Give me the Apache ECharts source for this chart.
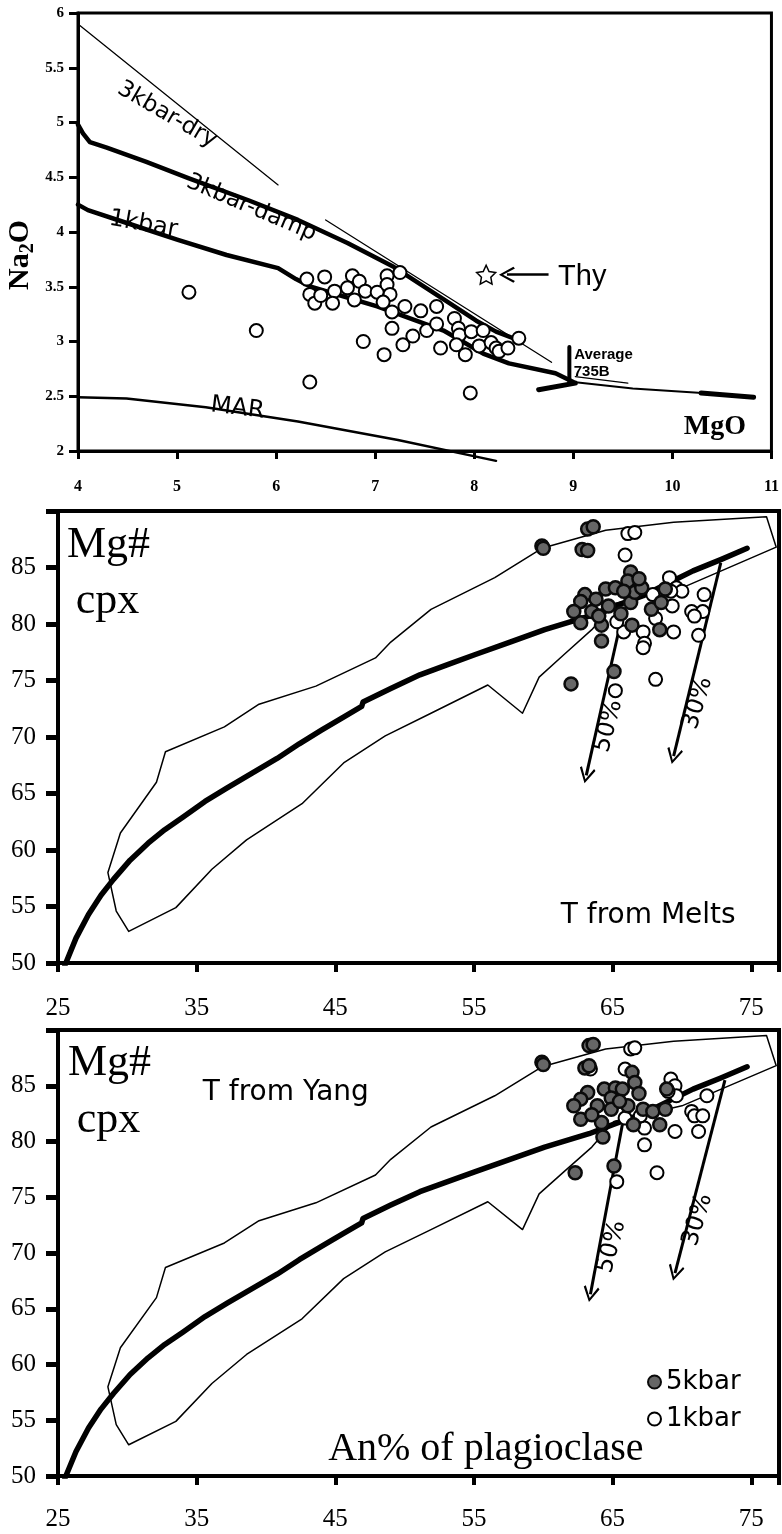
<!DOCTYPE html>
<html><head><meta charset="utf-8">
<script src="https://cdn.jsdelivr.net/npm/echarts@6/dist/echarts.min.js"></script>
<style>html,body{margin:0;padding:0;background:#fff}#c{width:782px;height:1534px}</style>
</head><body><div id="c"></div>
<script>
// ---------- Panel A : Na2O vs MgO ----------
const dryA = [[4.0,5.9],[6.02,4.43]];
const dryB = [[6.5,4.11],[8.78,2.81]];
const dryC = [[9.02,2.68],[9.55,2.62]];
const damp = [[4.0,4.98],[4.05,4.9],[4.12,4.82],[4.29,4.77],[4.69,4.64],[5.12,4.49],[5.72,4.29],[6.22,4.11],[6.72,3.9],[7.19,3.68],[7.75,3.35],[8.02,3.19],[8.22,3.09],[8.48,3.0]];
const kbar1 = [[4.0,4.25],[4.1,4.2],[4.5,4.08],[5.0,3.93],[5.5,3.79],[6.02,3.67],[6.2,3.57],[6.35,3.5],[7.02,3.32],[7.69,3.1],[8.09,2.89],[8.35,2.8],[8.82,2.71],[9.0,2.63]];
const kbar1Thin = [[9.0,2.63],[9.6,2.57],[10.3,2.53]];
const kbar1Tail = [[10.29,2.53],[10.82,2.49]];
const avgBar = [[8.96,2.62],[8.96,2.95]];
const avgBase = [[8.65,2.56],[9.02,2.62]];
const mar = [[4.0,2.49],[4.49,2.48],[5.29,2.4],[6.22,2.27],[7.23,2.1],[8.22,1.91]];
const naPoints = [[5.12,3.45],[5.8,3.1],[6.31,3.57],[6.49,3.59],[6.34,3.43],[6.39,3.35],[6.45,3.42],[6.59,3.46],[6.57,3.35],[6.77,3.6],[6.72,3.49],[6.84,3.55],[6.79,3.38],[6.9,3.46],[7.02,3.45],[7.12,3.6],[7.25,3.63],[7.12,3.52],[7.15,3.43],[7.08,3.36],[7.17,3.27],[7.3,3.32],[7.17,3.12],[7.09,2.88],[6.88,3.0],[6.34,2.63],[7.28,2.97],[7.38,3.05],[7.52,3.1],[7.46,3.28],[7.62,3.32],[7.62,3.16],[7.66,2.94],[7.8,3.21],[7.84,3.12],[7.85,3.06],[7.82,2.97],[7.91,2.88],[7.97,3.09],[8.09,3.1],[8.05,2.96],[8.17,2.99],[8.22,2.94],[8.25,2.91],[8.34,2.94],[8.45,3.03],[7.96,2.53]];
const thyPoint = [[8.12,3.61]];
const thyArrow = [[8.75,3.61],[8.33,3.61]];

// ---------- Panels B & C : Mg# cpx vs An% ----------
const envelope = [[30.1,52.8],[29.2,54.6],[28.6,58.0],[29.5,61.5],[32.1,66.0],[32.75,68.7],[37.0,70.9],[39.5,72.9],[43.6,74.5],[47.9,77.0],[49.0,78.4],[51.9,81.3],[56.5,84.1],[59.9,86.7],[64.5,88.3],[69.4,89.0],[76.1,89.5],[76.8,86.8],[70.0,83.2],[65.1,81.8],[63.5,79.5],[61.5,77.3],[59.7,75.3],[58.5,72.1],[56.0,74.6],[51.9,72.1],[48.6,70.1],[45.6,67.7],[42.6,64.1],[38.6,60.9],[36.1,58.3],[33.5,54.9],[30.1,52.8]];
const trend = [[25.5,49.8],[26.3,52.2],[27.2,54.3],[28.1,56.0],[29.0,57.4],[30.2,59.1],[31.5,60.6],[32.7,61.8],[34.0,62.9],[35.6,64.3],[37.2,65.5],[39.0,66.8],[40.8,68.1],[42.4,69.4],[44.0,70.6],[45.5,71.7],[46.9,72.7],[47.0,73.1],[49.0,74.3],[51.1,75.5],[53.1,76.4],[55.1,77.3],[57.6,78.4],[60.1,79.5],[63.3,80.7],[65.2,81.6],[67.2,82.5],[69.0,83.6],[70.8,84.7],[72.8,85.7],[74.7,86.7]];
const meltsArrow50 = [[65.7,80.8],[63.1,66.6]];
const meltsArrow30 = [[72.8,85.4],[69.4,68.3]];
const yangArrow50 = [[65.7,81.5],[63.4,66.3]];
const yangArrow30 = [[73.1,85.5],[69.5,68.2]];
const melts5kbar = [[59.9,86.9],[60.0,86.7],[63.2,88.4],[63.6,88.6],[62.8,86.6],[63.2,86.5],[66.3,84.6],[66.5,83.5],[66.1,83.8],[64.5,83.1],[65.2,83.2],[63.0,82.6],[62.7,82.0],[62.2,81.1],[62.7,80.1],[64.2,79.9],[63.5,81.1],[64.7,81.6],[66.3,81.9],[66.6,82.8],[67.1,83.2],[67.8,81.3],[68.5,81.9],[68.8,83.1],[66.4,79.9],[68.4,79.5],[64.2,78.5],[62.0,74.7],[65.1,75.8],[63.8,82.2],[65.8,82.9],[64.0,80.7],[66.9,84.0],[65.6,80.9]];
const melts1kbar = [[66.1,88.0],[66.6,88.1],[65.9,86.1],[69.1,84.1],[69.6,83.2],[70.0,82.9],[71.6,82.6],[70.7,81.1],[71.5,81.1],[70.9,80.7],[71.2,79.0],[69.4,79.3],[67.2,79.3],[67.3,78.3],[68.1,80.5],[69.3,81.6],[67.9,82.6],[65.8,79.3],[65.3,80.2],[65.2,74.1],[68.1,75.1],[67.2,77.9],[69.2,82.9]];
const yang5kbar = [[59.9,87.1],[60.0,86.9],[63.3,88.6],[63.6,88.7],[63.0,86.6],[63.3,86.8],[66.4,86.2],[66.6,85.3],[63.2,84.4],[62.7,83.8],[62.2,83.2],[62.7,82.0],[64.4,84.7],[65.2,84.8],[65.7,84.7],[64.9,83.9],[63.9,83.2],[64.9,82.9],[64.2,81.7],[66.1,83.2],[66.5,81.5],[67.2,82.9],[67.9,82.7],[68.8,82.9],[68.4,81.5],[68.9,84.7],[64.3,80.4],[65.1,77.8],[62.3,77.2],[63.5,82.4],[65.5,83.6],[66.9,84.3]];
const yang1kbar = [[66.3,88.3],[66.6,88.4],[63.4,86.5],[65.9,86.5],[69.2,85.6],[69.5,85.0],[69.6,84.1],[71.8,84.1],[70.7,82.7],[70.9,82.3],[71.5,82.3],[71.2,80.9],[69.5,80.9],[67.3,81.2],[67.3,79.7],[65.9,82.1],[67.0,82.3],[68.2,77.2],[65.3,76.4],[69.0,84.5]];

const SERIF = 'Liberation Serif', SANS = 'DejaVu Sans';
const chevron = 'path://M0,0L9,14L7,15.5L0,4L-7,15.5L-9,14Z';
const star = 'path://M0,-10L2.9,-4L9.5,-3.1L4.7,1.5L5.9,8.1L0,5L-5.9,8.1L-4.7,1.5L-9.5,-3.1L-2.9,-4Z';

function L(g, data, width, extra){
  return Object.assign({type:'line', xAxisIndex:g, yAxisIndex:g, data, symbol:'none', showSymbol:false,
    lineStyle:{color:'#000', width, opacity:1, join:'round', cap:'round'}, silent:true, animation:false, z:3}, extra||{});
}
function ARROW(g, data, width){
  return {type:'lines', coordinateSystem:'cartesian2d', xAxisIndex:g, yAxisIndex:g, silent:true, animation:false,
    data:[{coords:data}], symbol:['none', chevron], symbolSize:[14,16],
    lineStyle:{color:'#000', width, opacity:1, curveness:0}, itemStyle:{color:'#000', opacity:1}, z:4};
}
function T(g, x, y, text, font, size, extra){
  const lab = Object.assign({show:true, position:'inside', formatter:text, fontFamily:font, fontSize:size, color:'#000', opacity:1}, extra||{});
  return {type:'scatter', xAxisIndex:g, yAxisIndex:g, silent:true, animation:false, clip:false,
    symbolSize:1, itemStyle:{color:'rgba(0,0,0,0)', opacity:1}, data:[{value:[x,y], label:lab}], z:6};
}
const openStyle = {color:'#fff', borderColor:'#000', borderWidth:2, opacity:1};
const fillStyle = {color:'#666', borderColor:'#0a0a0a', borderWidth:2.5, opacity:1};

const axisA = (min,max,interval,extra) => Object.assign({type:'value', min, max, interval, splitLine:{show:false},
  axisLine:{show:true, onZero:false, lineStyle:{color:'#000', width:3}}}, extra);

const option = {
  animation:false,
  backgroundColor:'#fff',
  grid:[
    {left:78, top:13, width:700, height:438, show:true, borderColor:'#000', borderWidth:3},
    {left:58, top:511, width:728, height:452, show:true, borderColor:'#000', borderWidth:4},
    {left:58, top:1030, width:728, height:446, show:true, borderColor:'#000', borderWidth:4}
  ],
  xAxis:[
    axisA(4,11,1,{gridIndex:0, axisTick:{show:true, length:8, lineStyle:{width:3,color:'#000'}},
      axisLabel:{margin:28, fontSize:16, fontWeight:'bold', fontFamily:SERIF, color:'#000'}}),
    axisA(25,77,10,{gridIndex:1, axisLine:{show:true,onZero:false,lineStyle:{color:'#000',width:4}},
      axisTick:{show:true, length:9, lineStyle:{width:4,color:'#000'}},
      axisLabel:{margin:33, fontSize:25, fontFamily:SERIF, color:'#000', formatter:v => ((v-25)%10===0 ? String(v) : '')}}),
    axisA(25,77,10,{gridIndex:2, axisLine:{show:true,onZero:false,lineStyle:{color:'#000',width:4}},
      axisTick:{show:true, length:9, lineStyle:{width:4,color:'#000'}},
      axisLabel:{margin:31, fontSize:25, fontFamily:SERIF, color:'#000', formatter:v => ((v-25)%10===0 ? String(v) : '')}})
  ],
  yAxis:[
    axisA(2,6,0.5,{gridIndex:0, axisTick:{show:true, length:9, lineStyle:{width:3,color:'#000'}},
      axisLabel:{margin:14, fontSize:15, fontWeight:'bold', fontFamily:SERIF, color:'#000'}}),
    axisA(50,90,5,{gridIndex:1, axisLine:{show:true,onZero:false,lineStyle:{color:'#000',width:4}},
      axisTick:{show:true, length:12, lineStyle:{width:5,color:'#000'}},
      axisLabel:{margin:22, fontSize:25, fontFamily:SERIF, color:'#000', formatter:v => (v>=90 ? '' : String(v))}}),
    axisA(50,90,5,{gridIndex:2, axisLine:{show:true,onZero:false,lineStyle:{color:'#000',width:4}},
      axisTick:{show:true, length:12, lineStyle:{width:5,color:'#000'}},
      axisLabel:{margin:22, fontSize:25, fontFamily:SERIF, color:'#000', formatter:v => (v>=90 ? '' : String(v))}})
  ],
  legend:{data:['5kbar','1kbar'], orient:'vertical', left:642, top:1364, itemWidth:13, itemHeight:13, itemGap:11,
    icon:'circle', selectedMode:false, textStyle:{fontSize:26, lineHeight:25, fontFamily:SANS, color:'#000'}},
  series:[
    // panel A
    L(0, dryA, 1.3), L(0, dryB, 1.3), L(0, dryC, 1.3),
    L(0, damp, 4.5), L(0, kbar1, 4.5), L(0, kbar1Thin, 2), L(0, kbar1Tail, 5),
    L(0, avgBar, 4), L(0, avgBase, 5),
    L(0, mar, 2.5, {clip:false}),
    {type:'scatter', xAxisIndex:0, yAxisIndex:0, data:naPoints, symbol:'circle', symbolSize:13, itemStyle:openStyle, silent:true, z:5},
    {type:'scatter', xAxisIndex:0, yAxisIndex:0, data:thyPoint, symbol:star, symbolSize:19, itemStyle:{color:'#fff', borderColor:'#000', borderWidth:1.5, opacity:1}, silent:true, z:5},
    ARROW(0, thyArrow, 2.5),
    T(0, 4.9, 5.07, '3kbar-dry', SANS, 23, {rotate:-30}),
    T(0, 5.75, 4.22, '3kbar-damp', SANS, 23, {rotate:-23}),
    T(0, 4.66, 4.07, '1kbar', SANS, 24, {rotate:-10}),
    T(0, 5.61, 2.39, 'MAR', SANS, 24, {rotate:-7}),
    T(0, 9.09, 3.59, 'Thy', 'Liberation Sans', 29),
    T(0, 9.305, 2.88, 'Average', 'Liberation Sans', 15, {fontWeight:'bold'}),
    T(0, 9.185, 2.72, '735B', 'Liberation Sans', 15, {fontWeight:'bold'}),
    T(0, 10.43, 2.22, 'MgO', SERIF, 28, {fontWeight:'bold'}),
    T(0, 3.42, 3.79, '{a|Na}{s|2}{a|O}', SERIF, 30, {rotate:90,
      rich:{a:{fontSize:30, fontWeight:'bold', fontFamily:SERIF, color:'#000'},
            s:{fontSize:20, fontWeight:'bold', fontFamily:SERIF, color:'#000', padding:[14,0,0,0]}}}),
    // panel B (T from Melts)
    L(1, envelope, 1.5), L(1, trend, 5.5),
    ARROW(1, meltsArrow50, 3), ARROW(1, meltsArrow30, 3),
    {name:'1kbar', type:'scatter', xAxisIndex:1, yAxisIndex:1, data:melts1kbar, symbol:'circle', symbolSize:13, itemStyle:openStyle, silent:true, z:5},
    {name:'5kbar', type:'scatter', xAxisIndex:1, yAxisIndex:1, data:melts5kbar, symbol:'circle', symbolSize:13, itemStyle:fillStyle, silent:true, z:5},
    T(1, 28.64, 86.99, 'Mg#', SERIF, 44),
    T(1, 28.57, 82.04, 'cpx', SERIF, 44),
    T(1, 67.57, 54.16, 'T from Melts', SANS, 28),
    T(1, 64.71, 70.97, '50%', SANS, 24, {rotate:75}),
    T(1, 71.14, 73.0, '30%', SANS, 24, {rotate:73}),
    // panel C (T from Yang)
    L(2, envelope, 1.5), L(2, trend, 5.5),
    ARROW(2, yangArrow50, 3), ARROW(2, yangArrow30, 3),
    {name:'1kbar', type:'scatter', xAxisIndex:2, yAxisIndex:2, data:yang1kbar, symbol:'circle', symbolSize:13, itemStyle:openStyle, silent:true, z:5},
    {name:'5kbar', type:'scatter', xAxisIndex:2, yAxisIndex:2, data:yang5kbar, symbol:'circle', symbolSize:13, itemStyle:fillStyle, silent:true, z:5},
    T(2, 28.71, 87.04, 'Mg#', SERIF, 44),
    T(2, 28.64, 81.93, 'cpx', SERIF, 44),
    T(2, 41.43, 84.35, 'T from Yang', SANS, 28),
    T(2, 55.86, 52.42, 'An% of plagioclase', SERIF, 40),
    T(2, 64.93, 70.54, '50%', SANS, 24, {rotate:75}),
    T(2, 71.14, 72.96, '30%', SANS, 24, {rotate:73})
  ]
};
const chart = echarts.init(document.getElementById('c'), null, {renderer:'canvas'});
chart.setOption(option);
</script></body></html>
